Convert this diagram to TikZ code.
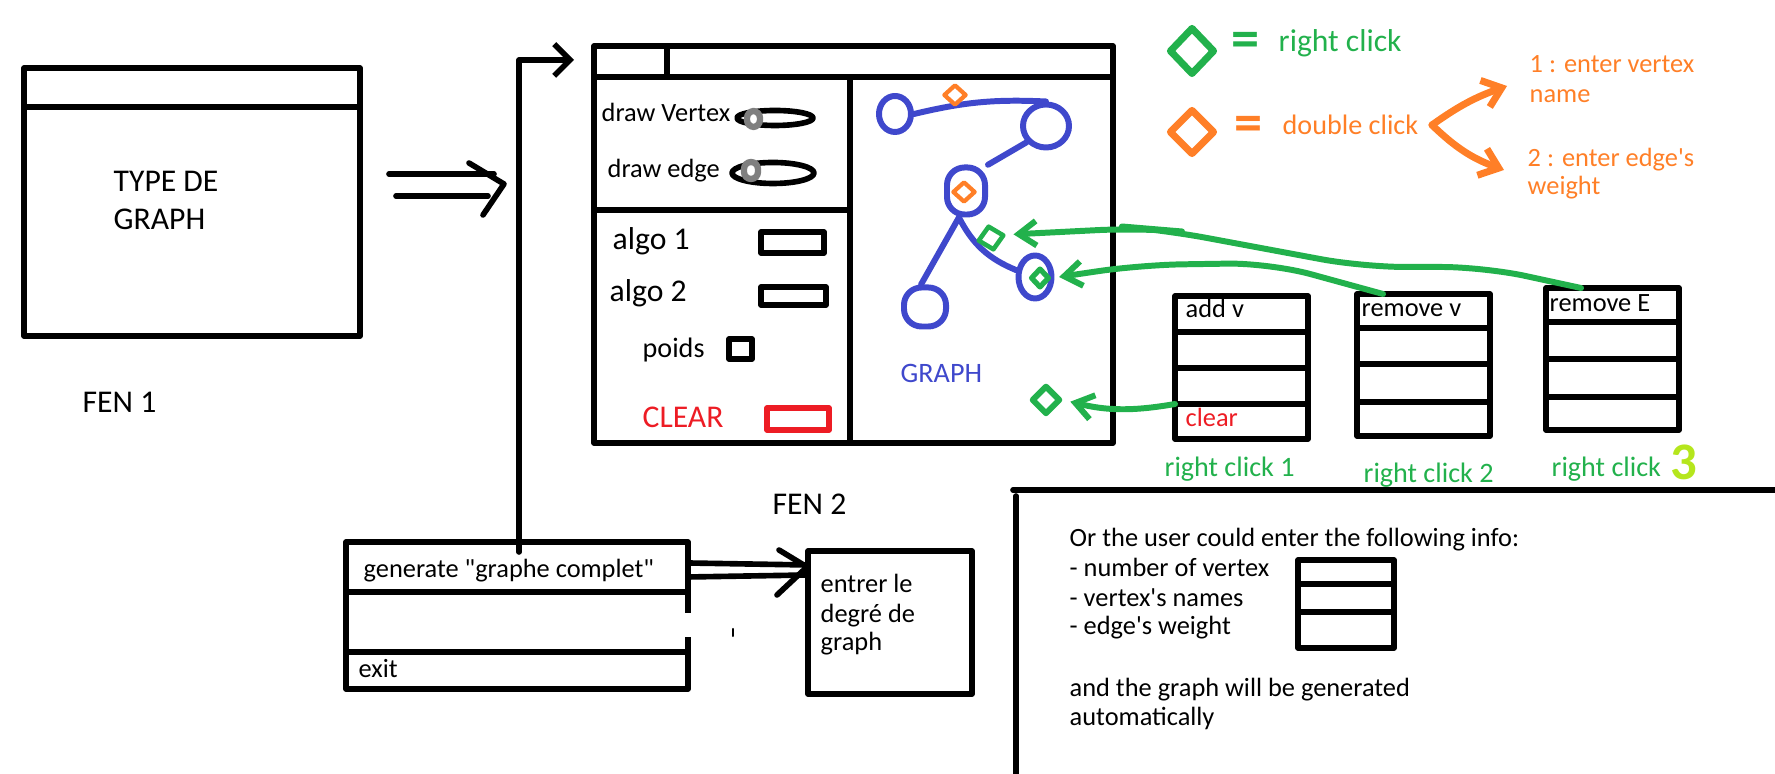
\documentclass[tikz,border=0pt]{standalone}
\usepackage{fontspec}
\setmainfont{Carlito}[Ligatures=TeXOff]
\usetikzlibrary{arrows.meta,shapes.geometric,fit}
\definecolor{pgreen}{HTML}{22B14C}
\definecolor{porange}{HTML}{FF7F27}
\definecolor{pblue}{HTML}{3F48CC}
\definecolor{pred}{HTML}{ED1C24}
\definecolor{plime}{HTML}{B5E61D}
\definecolor{pgrey}{HTML}{7F7F7F}
\begin{document}
\begin{tikzpicture}[x=0.01cm,y=-0.01cm,
  line cap=round, line join=round,
  ink/.style={line width=1.6pt},
  box/.style={draw, line width=1.6pt, rectangle, inner sep=0pt, outer sep=0pt},
  tx/.style={anchor=base west, inner sep=0pt, font=\fontsize{7.5}{9}\selectfont},
  tm/.style={anchor=base west, inner sep=0pt, font=\fontsize{8}{10}\selectfont},
  tl/.style={anchor=base west, inner sep=0pt, font=\fontsize{9}{11}\selectfont},
  vtx/.style={draw=pblue, line width=1.7pt, inner sep=0pt},
  edg/.style={draw=pblue, line width=1.7pt},
  dia/.style={diamond, draw, inner sep=0pt, aspect=1},
  garrow/.style={draw=pgreen, line width=1.7pt, -{Straight Barb[length=5pt,width=7pt]}},
  oarrow/.style={draw=porange, line width=2pt, -{Straight Barb[length=5pt,width=8pt]}},
  barrow/.style={draw=black, line width=1.6pt, -{Straight Barb[length=4.5pt,width=9pt]}},
  knob/.style={draw=pgrey, fill=white, line width=1.8pt, rounded corners=2pt}
]
\useasboundingbox (0,0) rectangle (1775,774);

% ---------- FEN 1 ----------
\node[box, fit={(24,68) (360,336)}] (fen1) {};
\draw[ink] (24,107) -- (360,107);
\node[tl] (tyde) at (113,192) {TYPE DE};
\node[tl] (tygr) at (113,230) {GRAPH};
\node[tl] (fen1lbl) at (82,413) {FEN 1};

% double arrow FEN1 -> FEN2
\draw[ink] (389,174) -- (494,174);
\draw[ink] (396,196) -- (488,196);
\draw[ink] (469,163) -- (504,184) -- (483,215);

% ---------- FEN 2 ----------
\node[box, fit={(594,46) (1113,443)}] (fen2) {};
\draw[ink] (594,77) -- (1113,77);
\draw[ink] (667,46) -- (667,77);
\draw[ink] (850,77) -- (850,443);
\draw[ink] (594,210) -- (850,210);

\node[tx] (dv) at (601,122) {draw Vertex};
\draw[ink] (775,118) ellipse [x radius=38, y radius=7.5];
\draw[knob] (747,111) rectangle (760,127);
\node[tx] (de) at (607,178) {draw edge};
\draw[ink] (773,173) ellipse [x radius=41, y radius=10.5];
\draw[knob] (744,162) rectangle (758,179);

\node[tl] (a1) at (612,250) {algo 1};
\draw[ink] (761,232) rectangle (824,253);
\node[tl] (a2) at (609,302) {algo 2};
\draw[ink] (761,287) rectangle (826,305);
\node[tm] (po) at (642,358) {poids};
\draw[ink] (729,339) rectangle (752,359);
\node[tl, text=pred] (clr) at (642,428) {CLEAR};
\draw[ink, draw=pred] (767,408) rectangle (829,430);

% graph sketch
\node[vtx, ellipse, minimum width=0.32cm, minimum height=0.36cm] (A) at (895,114) {};
\node[vtx, ellipse, minimum width=0.46cm, minimum height=0.43cm] (B) at (1046,126) {};
\node[vtx, rectangle, rounded corners=5pt, minimum width=0.38cm, minimum height=0.47cm] (C) at (966,191) {};
\node[vtx, rectangle, rounded corners=5pt, minimum width=0.42cm, minimum height=0.39cm] (D) at (925,307) {};
\node[vtx, ellipse, minimum width=0.33cm, minimum height=0.43cm] (E) at (1035,277) {};
\draw[edg] (A.east) to[bend left=8] (B.north);
\draw[edg] (B.220) -- (C.50);
\draw[edg] (C.255) -- (D.100);
\draw[edg] (C.255) to[bend right=20] (E.160);
\node[tm, text=pblue] (glbl) at (900,383) {GRAPH};

\node[dia, draw=porange, line width=1.2pt, minimum width=0.23cm, minimum height=0.21cm] (od1) at (955,95) {};
\node[dia, draw=porange, line width=1.2pt, minimum width=0.23cm, minimum height=0.21cm] (od2) at (964,192) {};
\node[dia, draw=pgreen, line width=1.3pt, minimum width=0.27cm, minimum height=0.25cm, rotate=12] (gd1) at (991,238) {};
\node[dia, draw=pgreen, line width=1.5pt, minimum width=0.19cm, minimum height=0.20cm] (gd2) at (1040,278) {};
\node[dia, draw=pgreen, line width=1.7pt, minimum width=0.29cm, minimum height=0.29cm] (gd3) at (1046,400) {};

% ---------- legend ----------
\node[dia, draw=pgreen, line width=2pt, minimum width=0.46cm, minimum height=0.48cm] (lgd) at (1192,51) {};
\node[text=pgreen, inner sep=0pt, font=\bfseries\fontsize{16}{16}\selectfont] (geq) at (1246,45) {=};
\node[tl, text=pgreen] (rcl) at (1278,52) {right click};
\node[dia, draw=porange, line width=2pt, minimum width=0.46cm, minimum height=0.46cm] (lod) at (1192,132) {};
\node[text=porange, inner sep=0pt, font=\bfseries\fontsize{16}{16}\selectfont] (oeq) at (1248,129) {=};
\node[tm, text=porange] (dbl) at (1282,135) {double click};
\node[tx, text=porange] (o1a) at (1529,73) {1 : enter vertex};
\node[tx, text=porange] (o1b) at (1529,103) {name};
\node[tx, text=porange] (o2a) at (1527,167) {2 : enter edge's};
\node[tx, text=porange] (o2b) at (1527,195) {weight};
\coordinate (osplit) at (1432,125);
\coordinate (oup) at (1507,86);
\coordinate (odn) at (1504,170);
\draw[oarrow] (osplit) to[bend left=8] (oup);
\draw[oarrow] (osplit) to[bend right=12] (odn);

% ---------- right click menus ----------
\node[box, fit={(1175,296) (1308,439)}] (addv) {};
\draw[ink] (1175,332) -- (1308,332);
\draw[ink] (1175,368) -- (1308,368);
\draw[ink] (1175,404) -- (1308,404);
\node[tx] (addvt) at (1185,318) {add v};
\node[tx, text=pred] (clrt) at (1185,427) {clear};

\node[box, fit={(1357,294) (1490,436)}] (remv) {};
\draw[ink] (1357,328) -- (1490,328);
\draw[ink] (1357,364) -- (1490,364);
\draw[ink] (1357,402) -- (1490,402);
\node[tx] (remvt) at (1361,317) {remove v};

\node[box, fit={(1546,288) (1679,430)}] (remE) {};
\draw[ink] (1546,322) -- (1679,322);
\draw[ink] (1546,359) -- (1679,359);
\draw[ink] (1546,397) -- (1679,397);
\node[tx] (remEt) at (1549,312) {remove E};

\node[tm, text=pgreen] (rc1) at (1164,477) {right click 1};
\node[tm, text=pgreen] (rc2) at (1363,483) {right click 2};
\node[tm, text=pgreen] (rc3) at (1551,477) {right click};
\node[anchor=base west, inner sep=0pt, text=plime, font=\bfseries\fontsize{15}{15}\selectfont] (three) at (1670,480) {3};

% green arrows
\coordinate (clrrow) at (1175,404);
\draw[garrow, rounded corners=12pt, shorten >=2pt] ([xshift=0.35cm]remE.north west) -- (1484,267) -- (1363,267) -- (1164,230) -- (1140,228) -- (gd1.east);
\draw[garrow, rounded corners=12pt, shorten >=2pt] ([xshift=0.26cm]remv.north west) -- (1270,263) -- (1140,265) -- (gd2.east);
\draw[garrow, shorten >=2pt] (clrrow) to[bend left=12] (gd3.east);

% ---------- bottom left menu ----------
\node[box, fit={(346,542) (688,689)}] (menu) {};
\draw[ink] (346,592) -- (688,592);
\draw[ink] (346,652) -- (688,652);
\fill[white] (684,613) rectangle (694,637);
\draw[line width=0.6pt] (733,629) -- (733,636);
\node[tx] (gen) at (363,578) {generate "graphe complet"};
\node[tx] (ex) at (358,678) {exit};

\coordinate (mtop) at (519,552);
\coordinate (f2in) at (574,60);
\draw[barrow] (mtop) |- (f2in);

\node[box, fit={(808,551) (972,694)}] (entrer) {};
\node[tx] (en1) at (820,593) {entrer le};
\node[tx] (en2) at (820,623) {degré de};
\node[tx] (en3) at (820,651) {graph};
\node[tl] (fen2lbl) at (772,515) {FEN 2};

\draw[ink] (menu.east |- 0,563) -- (entrer.west |- 0,565);
\draw[ink] (menu.east |- 0,577) -- (entrer.west |- 0,575);
\draw[ink] (779,550) -- (807,567) -- (777,595);

% ---------- bottom right panel ----------
\draw[ink] (1013,490) -- (1775,490);
\draw[ink] (1016,496) -- (1016,774);
\node[tx] (or1) at (1069,547) {Or the user could enter the following info:};
\node[tx] (or2) at (1069,577) {- number of vertex};
\node[tx] (or3) at (1069,607) {- vertex's names};
\node[tx] (or4) at (1069,635) {- edge's weight};
\node[tx] (or5) at (1069,697) {and the graph will be generated};
\node[tx] (or6) at (1069,726) {automatically};
\draw[ink] (1298,560) rectangle (1394,648);
\draw[ink] (1298,584) -- (1394,584);
\draw[ink] (1298,612) -- (1394,612);
\end{tikzpicture}
\end{document}
